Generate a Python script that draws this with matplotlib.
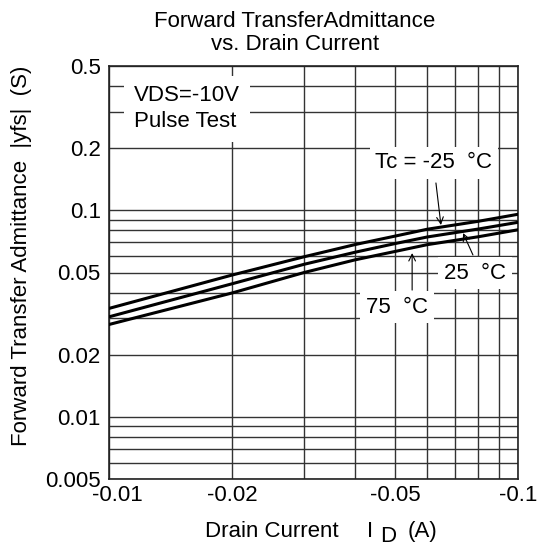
import matplotlib
matplotlib.use("Agg")
import matplotlib.pyplot as plt
from matplotlib.ticker import FixedLocator, FixedFormatter, LogLocator, NullFormatter
from matplotlib.transforms import ScaledTranslation

plt.rcParams['font.family'] = ['Liberation Sans', 'DejaVu Sans']

# Data (|ID| in A, |yfs| in S)
drain_current = [0.01, 0.02, 0.03, 0.04, 0.05, 0.06, 0.08, 0.1]
yfs_tc_m25 = [0.0335, 0.0486, 0.0596, 0.0683, 0.0750, 0.0810, 0.0885, 0.0957]
yfs_tc_25 = [0.0305, 0.0441, 0.0548, 0.0627, 0.0690, 0.0743, 0.0812, 0.0875]
yfs_tc_75 = [0.0280, 0.0398, 0.0500, 0.0576, 0.0632, 0.0682, 0.0745, 0.0805]

x_ticks = [0.01, 0.02, 0.05, 0.1]
x_labels = ['-0.01', '-0.02', '-0.05', '-0.1']
y_ticks = [0.005, 0.01, 0.02, 0.05, 0.1, 0.2, 0.5]
y_labels = ['0.005', '0.01', '0.02', '0.05', '0.1', '0.2', '0.5']

W, H = 552, 546
fig = plt.figure(figsize=(W / 100, H / 100), dpi=100)
ax = fig.add_axes([109 / W, 1 - 479 / H, (518 - 109) / W, (479 - 66) / H])
ax.set_xscale('log')
ax.set_yscale('log')
ax.set_xlim(0.01, 0.1)
ax.set_ylim(0.005, 0.5)

ax.xaxis.set_major_locator(FixedLocator(x_ticks))
ax.xaxis.set_major_formatter(FixedFormatter(x_labels))
ax.yaxis.set_major_locator(FixedLocator(y_ticks))
ax.yaxis.set_major_formatter(FixedFormatter(y_labels))
ax.xaxis.set_minor_locator(LogLocator(base=10, subs=range(1, 10)))
ax.yaxis.set_minor_locator(LogLocator(base=10, subs=range(1, 10)))
ax.xaxis.set_minor_formatter(NullFormatter())
ax.yaxis.set_minor_formatter(NullFormatter())
ax.tick_params(which='both', length=0)
ax.tick_params(axis='x', labelsize=16, pad=4)
ax.tick_params(axis='y', labelsize=16, pad=6)
ax.grid(which='both', color='#333333', linewidth=1.0)
ax.set_axisbelow(True)
for s in ax.spines.values():
    s.set_linewidth(1.2)
    s.set_color('#222222')

for ys in (yfs_tc_m25, yfs_tc_25, yfs_tc_75):
    ax.plot(drain_current, ys, color='black', linewidth=2.2, zorder=3)

box = dict(facecolor='white', edgecolor='none', pad=4)
ax.text(0.01151, 0.31, 'VDS=-10V\nPulse Test', fontsize=16, ha='left', va='center',
        linespacing=1.3, bbox=dict(facecolor='white', edgecolor='none', pad=7), zorder=4)
ax.text(0.0623, 0.1696, 'Tc = -25  °C', fontsize=16, ha='center', va='center', bbox=box, zorder=4)
ax.text(0.0785, 0.0497, '25  °C', fontsize=16, ha='center', va='center', bbox=box, zorder=4)
ax.text(0.0506, 0.0340, '75  °C', fontsize=16, ha='center', va='center', bbox=box, zorder=4)

arrow = dict(arrowstyle='->', color='black', lw=0.8, mutation_scale=12, shrinkA=0, shrinkB=0)
ax.annotate('', xy=(0.0648, 0.0849), xytext=(0.0630, 0.1357), arrowprops=arrow, zorder=5)
ax.annotate('', xy=(0.0734, 0.0776), xytext=(0.0776, 0.0608), arrowprops=arrow, zorder=5)
ax.annotate('', xy=(0.0551, 0.0621), xytext=(0.0551, 0.0411), arrowprops=arrow, zorder=5)

fig.text(295 / W, 1 - 27 / H, 'Forward TransferAdmittance', fontsize=16, ha='center', va='baseline')
fig.text(295 / W, 1 - 50 / H, 'vs. Drain Current', fontsize=16, ha='center', va='baseline')

fig.text(205 / W, 1 - 537 / H, 'Drain Current', fontsize=16, ha='left', va='baseline')
fig.text(367 / W, 1 - 537 / H, 'I', fontsize=16, ha='left', va='baseline')
fig.text(380 / W, 1 - 542 / H, 'D', fontsize=16, ha='left', va='baseline')
fig.text(408 / W, 1 - 537 / H, '(A)', fontsize=16, ha='left', va='baseline')

fig.text(22 / W, 1 - 256 / H, 'Forward Transfer Admittance  |yfs|  (S)', fontsize=16,
         rotation=90, ha='center', va='center')

fig.canvas.draw()
first = ax.get_xticklabels()[0]
first.set_transform(first.get_transform() + ScaledTranslation(6 / 72, 0, fig.dpi_scale_trans))

fig.savefig('out.png', dpi=100, facecolor='white')
